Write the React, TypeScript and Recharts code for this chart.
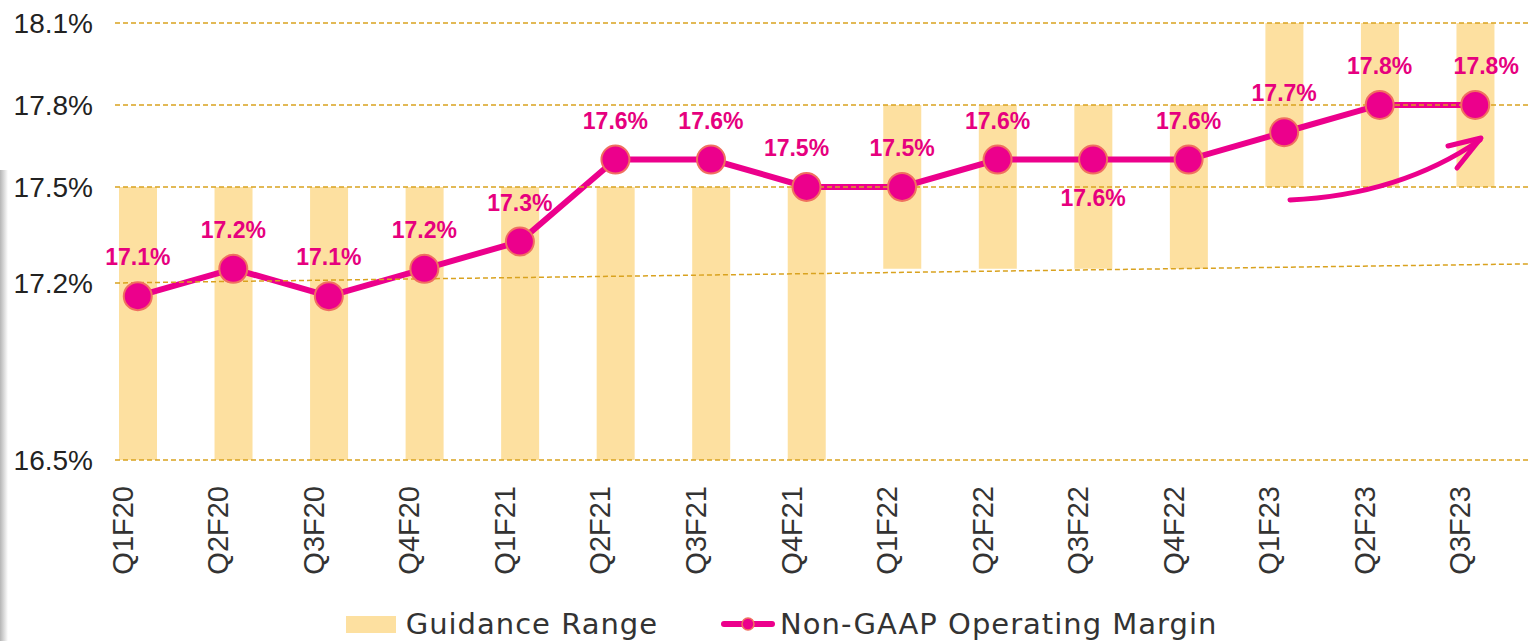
import React from "react";
import {
  ComposedChart,
  Bar,
  Line,
  XAxis,
  YAxis,
  ReferenceLine,
  Legend,
  LabelList,
} from "recharts";

const quarters = [
  "Q1F20", "Q2F20", "Q3F20", "Q4F20", "Q1F21", "Q2F21", "Q3F21", "Q4F21",
  "Q1F22", "Q2F22", "Q3F22", "Q4F22", "Q1F23", "Q2F23", "Q3F23",
];
const guidanceLow = [16.5, 16.5, 16.5, 16.5, 16.5, 16.5, 16.5, 16.5, 17.2, 17.2, 17.2, 17.2, 17.5, 17.5, 17.5];
const guidanceHigh = [17.5, 17.5, 17.5, 17.5, 17.5, 17.5, 17.5, 17.5, 17.8, 17.8, 17.8, 17.8, 18.1, 18.1, 18.1];
const operatingMargin = [17.1, 17.2, 17.1, 17.2, 17.3, 17.6, 17.6, 17.5, 17.5, 17.6, 17.6, 17.6, 17.7, 17.8, 17.8];

// the 17.2% gridline in the source is slightly skewed, so its tick sits a bit low
const yTicks = [16.5, 17.148, 17.5, 17.8, 18.1];
const yTickLabels = ["16.5%", "17.2%", "17.5%", "17.8%", "18.1%"];
const straightGrid = [16.5, 17.5, 17.8, 18.1];

// label placement tweaks
const labelsBelow = ["Q3F22"];
const labelNudge: Record<string, number> = { Q4F21: -10, Q3F23: 11 };

const PINK = "#EC008C";
const BAR = "#FDE0A0";
const GRID = "#D9A21F";
const gridEnd = quarters.length - 1;

const data = quarters.map((q, i) => ({
  quarter: q,
  guidance: [guidanceLow[i], guidanceHigh[i]],
  margin: operatingMargin[i],
}));

const QuarterTick = (props: any) => {
  const { x, y, payload } = props;
  return (
    <text
      x={0}
      y={0}
      transform={`translate(${x - 15},${y + 20}) rotate(-90)`}
      textAnchor="end"
      dominantBaseline="central"
      fontFamily="Liberation Sans"
      fontSize={29}
      fill="#333"
    >
      {payload.value}
    </text>
  );
};

const MarginLabel = (props: any) => {
  const { x, y, value, index } = props;
  const q = quarters[index];
  const below = labelsBelow.includes(q);
  const dx = labelNudge[q] ?? 0;
  return (
    <text
      x={x + dx}
      y={below ? y + 46 : y - 31}
      textAnchor="middle"
      fill="#E6007E"
      fontFamily="Liberation Sans"
      fontWeight="bold"
      fontSize={23}
    >
      {Number(value).toFixed(1)}%
    </text>
  );
};

const renderLegend = () => (
  <div
    style={{
      height: 51,
      boxSizing: "border-box",
      paddingTop: 17,
      paddingLeft: 33,
      display: "flex",
      justifyContent: "center",
      alignItems: "center",
      fontFamily: "DejaVu Sans",
      fontSize: 29,
      letterSpacing: 1,
      color: "#333",
    }}
  >
    <div style={{ display: "flex", alignItems: "center" }}>
      <span style={{ width: 50, height: 17, background: BAR, display: "inline-block", marginRight: 10 }} />
      <span>Guidance Range</span>
    </div>
    <div style={{ display: "flex", alignItems: "center", marginLeft: 62 }}>
      <svg width={56} height={20} style={{ marginRight: 4 }}>
        <line x1={4} y1={10} x2={52} y2={10} stroke={PINK} strokeWidth={6} strokeLinecap="round" />
        <circle cx={28} cy={10} r={6} fill={PINK} stroke="#F07060" strokeWidth={1.5} />
      </svg>
      <span>Non-GAAP Operating Margin</span>
    </div>
  </div>
);

export default function App() {
  return (
    <div style={{ position: "absolute", left: 0, top: 0, width: 1539, height: 641, background: "#fff" }}>
      <div
        style={{
          position: "absolute",
          left: 0,
          top: 170,
          width: 8,
          height: 471,
          background: "linear-gradient(to right, #b5b5b5, rgba(255,255,255,0))",
        }}
      />
      <ComposedChart
        width={1539}
        height={641}
        data={data}
        margin={{ top: 23, right: 9, left: 0, bottom: 0 }}
      >
        <XAxis
          dataKey="quarter"
          axisLine={false}
          tickLine={false}
          tickMargin={0}
          height={130}
          interval={0}
          padding={{ left: -25, right: 7 }}
          tick={<QuarterTick />}
        />
        <XAxis xAxisId="grid" type="number" domain={[0, gridEnd]} allowDataOverflow hide />
        <YAxis
          type="number"
          domain={[16.5, 18.1]}
          allowDataOverflow
          ticks={yTicks}
          width={115}
          axisLine={false}
          tickLine={false}
          tickMargin={16}
          tickFormatter={(v: number) => yTickLabels[yTicks.indexOf(v)] ?? ""}
          tick={{ fill: "#222", fontSize: 28, fontFamily: "Liberation Sans" }}
        />
        <Legend verticalAlign="bottom" height={51} content={renderLegend} />
        <Bar
          dataKey="guidance"
          name="Guidance Range"
          fill={BAR}
          barSize={38}
          isAnimationActive={false}
        />
        <Line
          dataKey="margin"
          name="Non-GAAP Operating Margin"
          stroke={PINK}
          strokeWidth={6}
          dot={{ r: 14, fill: PINK, stroke: "#F07060", strokeWidth: 2 }}
          activeDot={false}
          isAnimationActive={false}
        >
          <LabelList dataKey="margin" content={<MarginLabel />} />
        </Line>
        {straightGrid.map((v) => (
          <ReferenceLine
            key={v}
            y={v}
            stroke={GRID}
            strokeWidth={1.5}
            strokeDasharray="5 3"
            ifOverflow="visible"
          />
        ))}
        <ReferenceLine
          xAxisId="grid"
          segment={[
            { x: 0, y: 17.148 },
            { x: gridEnd, y: 17.218 },
          ]}
          stroke={GRID}
          strokeWidth={1.5}
          strokeDasharray="5 3"
          ifOverflow="visible"
        />
      </ComposedChart>
      <svg
        width={1539}
        height={641}
        style={{ position: "absolute", left: 0, top: 0, pointerEvents: "none" }}
      >
        <path d="M1290,200 Q1400,195 1480,140" fill="none" stroke={PINK} strokeWidth={5} strokeLinecap="round" />
        <path d="M1448,146 L1481,138 L1457,168" fill="none" stroke={PINK} strokeWidth={5} strokeLinecap="round" strokeLinejoin="round" />
      </svg>
    </div>
  );
}
